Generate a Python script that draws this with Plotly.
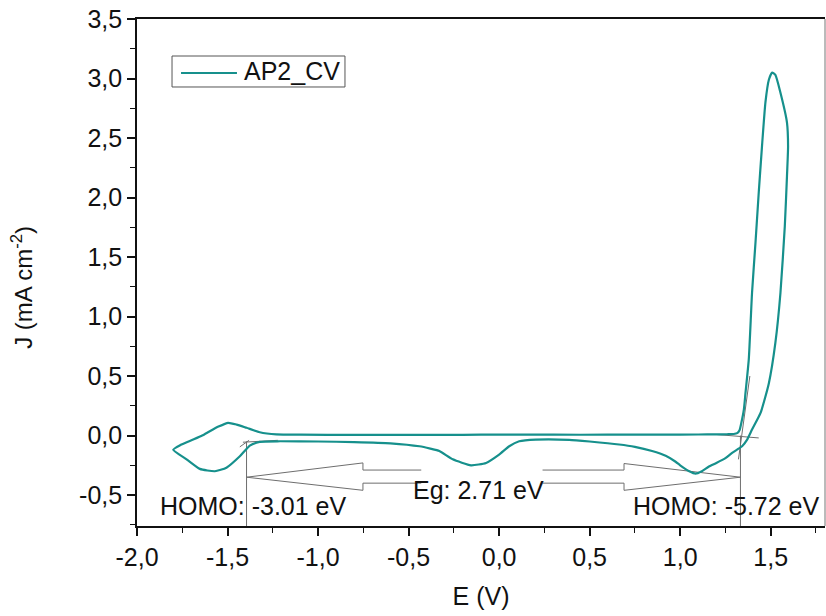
import plotly.graph_objects as go

# ---- CV loop data (E in V, J in mA cm^-2) ----
E_cv = [-1.80, -1.76, -1.69, -1.64, -1.598, -1.55, -1.497, -1.45, -1.395, -1.322, -1.23, -1.10,
        -0.80, -0.50, -0.20, 0.00, 0.30, 0.60, 0.90, 1.10, 1.20, 1.26, 1.296, 1.315, 1.328,
        1.338, 1.352, 1.361, 1.379, 1.397, 1.416, 1.434, 1.452, 1.471, 1.490, 1.508, 1.526, 1.554,
        1.590, 1.596, 1.590, 1.578, 1.554, 1.526, 1.490, 1.444, 1.397, 1.370, 1.342, 1.287,
        1.25, 1.20, 1.159, 1.12, 1.085, 1.05, 1.00, 0.975, 0.92, 0.845, 0.75, 0.663, 0.50,
        0.387, 0.203, 0.111, 0.056, 0.00, -0.072, -0.155, -0.256, -0.33, -0.38, -0.44,
        -0.60, -0.80, -1.00, -1.21, -1.322, -1.377, -1.432, -1.506, -1.57, -1.653, -1.726, -1.80]
J_cv = [-0.12, -0.08, -0.034, 0.00, 0.036, 0.075, 0.107, 0.092, 0.065, 0.028, 0.010, 0.007,
        0.006, 0.005, 0.006, 0.008, 0.007, 0.007, 0.008, 0.009, 0.010, 0.011, 0.013, 0.020, 0.045,
        0.107, 0.22, 0.36, 0.64, 1.20, 1.62, 2.04, 2.43, 2.80, 2.99, 3.05, 3.03, 2.88,
        2.63, 2.43, 2.18, 1.76, 1.20, 0.78, 0.44, 0.19, 0.05, -0.034, -0.09, -0.145,
        -0.19, -0.23, -0.26, -0.30, -0.32, -0.30, -0.25, -0.22, -0.17, -0.13, -0.095, -0.075, -0.05,
        -0.036, -0.034, -0.048, -0.09, -0.16, -0.23, -0.25, -0.20, -0.13, -0.11, -0.09,
        -0.065, -0.055, -0.05, -0.048, -0.053, -0.084, -0.174, -0.27, -0.30, -0.28, -0.20, -0.12]

# ---- onset construction lines (grey) ----
left_vline_x = [-1.395, -1.395]
left_vline_y = [-0.05, -0.76]
left_htan_x = [-1.415, -1.222]
left_htan_y = [-0.056, -0.040]
left_stan_x = [-1.432, -1.381]
left_stan_y = [-0.095, -0.040]
right_vline_x = [1.333, 1.333]
right_vline_y = [0.0, -0.76]
right_htan_x = [1.205, 1.434]
right_htan_y = [0.008, -0.020]
right_stan_x = [1.385, 1.322]
right_stan_y = [0.50, -0.20]

# ---- hollow double arrow (Eg) ----
arrowL_x = [-0.43, -0.752, -0.752, -1.395, -0.752, -0.752, -0.43]
arrowL_y = [-0.29, -0.29, -0.23, -0.35, -0.46, -0.40, -0.40]
arrowR_x = [0.24, 0.69, 0.69, 1.333, 0.69, 0.69, 0.24]
arrowR_y = [-0.29, -0.29, -0.235, -0.35, -0.46, -0.40, -0.40]

labels_text = ["HOMO: -3.01 eV", "Eg: 2.71 eV", "HOMO: -5.72 eV"]
labels_x = [-1.359, -0.115, 1.255]
labels_y = [-0.59, -0.455, -0.59]

x_ticks = [-2.0, -1.5, -1.0, -0.5, 0.0, 0.5, 1.0, 1.5]
x_ticklabels = ["-2,0", "-1,5", "-1,0", "-0,5", "0,0", "0,5", "1,0", "1,5"]
y_ticks = [-0.5, 0.0, 0.5, 1.0, 1.5, 2.0, 2.5, 3.0, 3.5]
y_ticklabels = ["-0,5", "0,0", "0,5", "1,0", "1,5", "2,0", "2,5", "3,0", "3,5"]

series_name = "AP2_CV"

TEAL = "#16908c"
GREY = "#6e6e6e"
INK = "#111111"
FONT = "Liberation Sans, Arial, sans-serif"

fig = go.Figure()

for xs, ys in [(left_vline_x, left_vline_y), (left_htan_x, left_htan_y), (left_stan_x, left_stan_y),
               (right_vline_x, right_vline_y), (right_htan_x, right_htan_y), (right_stan_x, right_stan_y),
               (arrowL_x, arrowL_y), (arrowR_x, arrowR_y)]:
    fig.add_trace(go.Scatter(x=xs, y=ys, mode="lines", line=dict(color=GREY, width=1),
                             showlegend=False, hoverinfo="skip"))

fig.add_trace(go.Scatter(x=E_cv, y=J_cv, mode="lines", name=series_name, showlegend=False,
                         line=dict(color=TEAL, width=2.2, shape="spline", smoothing=0.5)))

for t, xv, yv in zip(labels_text, labels_x, labels_y):
    fig.add_annotation(x=xv, y=yv, text=t, showarrow=False, xref="x", yref="y",
                       font=dict(size=25, color=INK, family=FONT),
                       xanchor="center", yanchor="middle")

fig.add_annotation(x=-0.167, y=0.47, xref="paper", yref="paper", text="J (mA cm<sup>-2</sup>)",
                   textangle=-90, showarrow=False, font=dict(size=24, color=INK, family=FONT),
                   xanchor="center", yanchor="middle")

# custom legend box (paper coordinates)
fig.add_shape(type="rect", xref="paper", yref="paper", x0=0.0509, x1=0.3023, y0=0.8659, y1=0.9270,
              line=dict(color="#555555", width=1), fillcolor="white", layer="above")
fig.add_shape(type="line", xref="paper", yref="paper", x0=0.0640, x1=0.1453, y0=0.8935, y1=0.8935,
              line=dict(color=TEAL, width=2.2), layer="above")
fig.add_annotation(x=0.1530, y=0.8965, xref="paper", yref="paper", text=series_name, showarrow=False,
                   xanchor="left", yanchor="middle", font=dict(size=25, color=INK, family=FONT))

# right frame line (thin grey)
fig.add_shape(type="line", xref="paper", yref="paper", x0=1, x1=1, y0=0, y1=1,
              line=dict(color="#777777", width=1))

axis_common = dict(showgrid=False, zeroline=False, showline=True, linecolor=INK, linewidth=1.6,
                   ticks="outside", ticklen=8, tickwidth=1.6, tickcolor=INK,
                   tickfont=dict(size=25, color=INK, family=FONT))

fig.update_xaxes(range=[-2.0, 1.8], tickvals=x_ticks, ticktext=x_ticklabels, mirror=True,
                 minor=dict(dtick=0.25, ticks="outside", ticklen=5, tickwidth=1.4, tickcolor=INK),
                 title=dict(text="E (V)", font=dict(size=25, color=INK, family=FONT), standoff=18),
                 **axis_common)
fig.update_yaxes(range=[-0.76, 3.5], tickvals=y_ticks, ticktext=y_ticklabels, mirror=False,
                 minor=dict(dtick=0.25, ticks="outside", ticklen=5, tickwidth=1.4, tickcolor=INK),
                 **axis_common)

fig.update_layout(
    width=826, height=616,
    margin=dict(l=137, r=1, t=19, b=90),
    paper_bgcolor="white", plot_bgcolor="white",
    font=dict(family=FONT, color=INK),
    showlegend=False,
)

fig.write_html("out.html")
